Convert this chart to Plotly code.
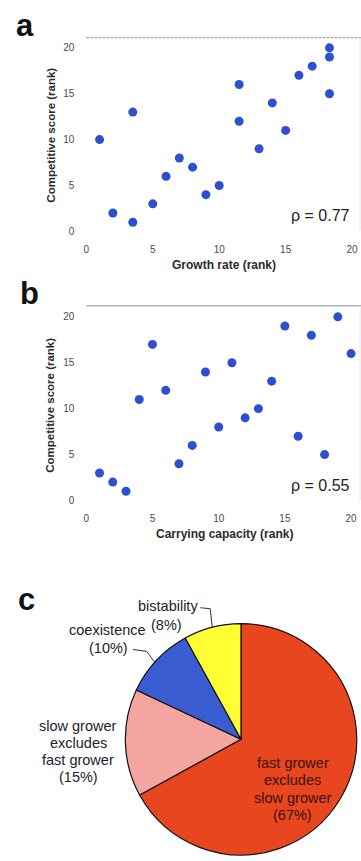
import plotly.graph_objects as go

# ---- data ----
growth_rank = [1, 2, 3.5, 3.5, 5, 6, 7, 8, 9, 10, 11.5, 11.5, 13, 14, 15, 16, 17, 18.3, 18.3, 18.3]
score_a = [10, 2, 1, 13, 3, 6, 8, 7, 4, 5, 16, 12, 9, 14, 11, 17, 18, 20, 19, 15]

capacity_rank = [1, 2, 3, 4, 5, 6, 7, 8, 9, 10, 11, 12, 13, 14, 15, 16, 17, 18, 19, 20]
score_b = [3, 2, 1, 11, 17, 12, 4, 6, 14, 8, 15, 9, 10, 13, 19, 7, 18, 5, 20, 16]

outcome_labels = ["fast grower excludes slow grower", "slow grower excludes fast grower",
                  "coexistence", "bistability"]
outcome_pct = [67, 15, 10, 8]
outcome_colors = ["#E8461F", "#F4A5A0", "#3A5ED2", "#FFFF33"]

rho_a = "ρ = 0.77"
rho_b = "ρ = 0.55"
ticks = [0, 5, 10, 15, 20]

W, H = 361, 861
FONT = "Liberation Sans, Arial, sans-serif"
def X(px): return px / W
def Y(py): return 1 - py / H

dot_color = "#2D50D0"
fig = go.Figure()
fig.add_trace(go.Scatter(x=growth_rank, y=score_a, mode="markers",
                         marker=dict(size=9, color=dot_color), xaxis="x", yaxis="y",
                         showlegend=False, hoverinfo="skip"))
fig.add_trace(go.Scatter(x=capacity_rank, y=score_b, mode="markers",
                         marker=dict(size=9, color=dot_color), xaxis="x2", yaxis="y2",
                         showlegend=False, hoverinfo="skip"))
fig.add_trace(go.Pie(values=outcome_pct, labels=outcome_labels, sort=False,
                     direction="clockwise", rotation=0, textinfo="none",
                     marker=dict(colors=outcome_colors, line=dict(color="#111111", width=1.2)),
                     domain=dict(x=[X(123), X(357)], y=[0, Y(628)]),
                     showlegend=False, hoverinfo="skip"))

tickfont = dict(family=FONT, size=10, color="#4a4a4a")
axcommon = dict(showgrid=False, zeroline=False, showline=False, tickvals=ticks,
                ticks="outside", ticklen=9, tickcolor="rgba(0,0,0,0)", tickfont=tickfont,
                fixedrange=True)

fig.update_layout(
    width=W, height=H, margin=dict(l=0, r=0, t=0, b=0),
    paper_bgcolor="white", plot_bgcolor="white",
    xaxis=dict(domain=[X(84), 1], range=[0, 277 / 13.4], anchor="y", **axcommon),
    yaxis=dict(domain=[Y(233), Y(38)], range=[0, 21.1], anchor="x", **axcommon),
    xaxis2=dict(domain=[X(84), 1], range=[0, 277 / 13.35], anchor="y2", **axcommon),
    yaxis2=dict(domain=[Y(504), Y(308)], range=[0, 21.2], anchor="x2", **axcommon),
)

ann = []
def text(px, py, s, size=10, bold=False, color="#222222", angle=0, xanchor="center"):
    ann.append(dict(x=X(px), y=Y(py), xref="paper", yref="paper", text=(f"<b>{s}</b>" if bold else s),
                    showarrow=False, textangle=angle, xanchor=xanchor, yanchor="middle",
                    font=dict(family=FONT, size=size, color=color)))

def lines(px, py0, step, rows, **kw):
    for i, r in enumerate(rows):
        text(px, py0 + i * step, r, **kw)

# panel letters
text(22, 26, "a", size=31, bold=True, color="#111111")
text(27, 296, "b", size=31, bold=True, color="#111111")
text(24, 604, "c", size=31, bold=True, color="#111111")
# axis titles
text(48, 136, "Competitive score (rank)", size=11.5, bold=True, angle=-90, color="#2a2a2a")
text(223, 267, "Growth rate (rank)", size=12, bold=True, color="#2a2a2a")
text(48, 408, "Competitive score (rank)", size=11.5, bold=True, angle=-90, color="#2a2a2a")
text(223, 538, "Carrying capacity (rank)", size=12, bold=True, color="#2a2a2a")
# rho
text(352, 217, rho_a, size=16, color="#222222", xanchor="right")
text(352, 489, rho_b, size=16, color="#222222", xanchor="right")
# pie labels
lab = "#22222e"
fs = 14.5
text(166, 610, "bistability", size=fs, color=lab)
text(165, 629, f"({outcome_pct[3]}%)", size=fs, color=lab)
text(105, 634, "coexistence", size=fs, color=lab)
text(106, 653, f"({outcome_pct[2]}%)", size=fs, color=lab)
lines(76, 731, 17, ["slow grower", "excludes", "fast grower", f"({outcome_pct[1]}%)"], size=fs, color=lab)
lines(292, 768, 17.7, ["fast grower", "excludes", "slow grower", f"({outcome_pct[0]}%)"], size=fs,
      color="#3a1208")
fig.update_layout(annotations=ann)

shapes = [
    dict(type="line", xref="paper", yref="paper", x0=X(84), x1=1, y0=Y(38), y1=Y(38),
         line=dict(color="#8090a8", width=1, dash="3px,1px")),
    dict(type="line", xref="paper", yref="paper", x0=X(84), x1=1, y0=Y(308), y1=Y(308),
         line=dict(color="#7a8ca4", width=1)),
    dict(type="line", xref="paper", yref="paper", x0=X(360), x1=X(360), y0=Y(233), y1=Y(38),
         line=dict(color="#e4e8ee", width=1)),
    dict(type="line", xref="paper", yref="paper", x0=X(360), x1=X(360), y0=Y(504), y1=Y(308),
         line=dict(color="#e4e8ee", width=1)),
    dict(type="path", xref="paper", yref="paper",
         path=f"M {X(199)} {Y(612)} L {X(209)} {Y(613)} L {X(211)} {Y(632)}",
         line=dict(color="#333333", width=1)),
    dict(type="path", xref="paper", yref="paper",
         path=f"M {X(131)} {Y(654)} L {X(145)} {Y(656)} L {X(153)} {Y(667)}",
         line=dict(color="#333333", width=1)),
]
fig.update_layout(shapes=shapes)

fig.write_html("out.html")
